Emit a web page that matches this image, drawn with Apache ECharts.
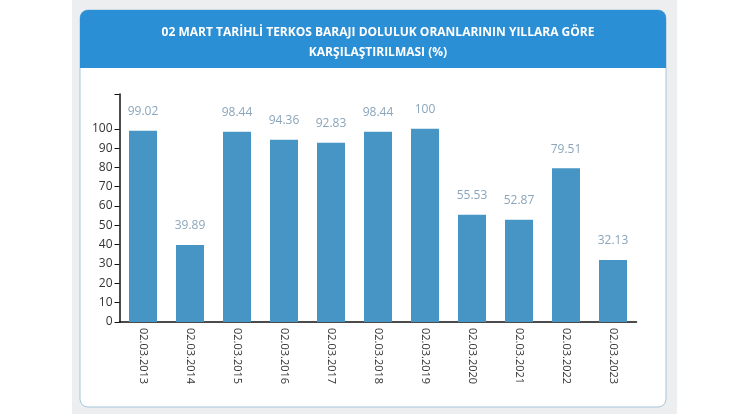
<!DOCTYPE html>
<html>
<head>
<meta charset="utf-8">
<script src="https://cdn.jsdelivr.net/npm/echarts@6/dist/echarts.min.js"></script>
<style>
  html, body { margin: 0; padding: 0; background: #fff; }
  #chart { width: 750px; height: 414px; }
</style>
</head>
<body>
<div id="chart"></div>
<script>
const dates = ['02.03.2013', '02.03.2014', '02.03.2015', '02.03.2016', '02.03.2017', '02.03.2018',
  '02.03.2019', '02.03.2020', '02.03.2021', '02.03.2022', '02.03.2023']
const levels = [99.02, 39.89, 98.44, 94.36, 92.83, 98.44, 100, 55.53, 52.87, 79.51, 32.13]
const yLabels = [0, 10, 20, 30, 40, 50, 60, 70, 80, 90, 100]
const yMax = 118
const titleText = '02 MART TARİHLİ TERKOS BARAJI DOLULUK ORANLARININ YILLARA GÖRE\nKARŞILAŞTIRILMASI (%)'

const chart = echarts.init(document.querySelector('#chart'))

const option = {
  animation: false,
  textStyle: { fontFamily: 'Open Sans' },
  graphic: [
    // card shadow, card and header band
    { type: 'rect', z: -10, shape: { x: 72, y: 0, width: 605, height: 414 }, style: { fill: '#eceef0' } },
    { type: 'rect', z: -9, shape: { x: 80, y: 10, width: 586, height: 397, r: 8 }, style: { fill: '#fff', stroke: '#a7c6d8', lineWidth: 1 } },
    { type: 'rect', z: -8, shape: { x: 80, y: 10, width: 586, height: 58, r: [8, 8, 0, 0] }, style: { fill: '#2b8fd5' } }
  ],
  title: {
    text: titleText,
    left: 373,
    top: 18,
    textAlign: 'center',
    textStyle: {
      color: '#fff',
      fontSize: 12,
      fontWeight: 'bold',
      fontFamily: 'Open Sans',
      lineHeight: 20
    }
  },
  grid: {
    left: 119.5,
    right: 113.5,
    top: 94,
    bottom: 92
  },
  xAxis: {
    type: 'category',
    data: dates,
    axisLine: { lineStyle: { color: '#111', width: 1.5 } },
    axisTick: { alignWithLabel: true, length: 5, lineStyle: { color: '#111' } },
    axisLabel: {
      rotate: -90,
      color: '#333',
      fontSize: 11,
      margin: 6
    }
  },
  yAxis: {
    type: 'value',
    min: 0,
    max: yMax,
    interval: 10,
    splitLine: { show: false },
    axisLine: { show: true, lineStyle: { color: '#111', width: 1.5 } },
    axisTick: { show: true, length: 5, customValues: yLabels.concat([yMax]), lineStyle: { color: '#111' } },
    axisLabel: { customValues: yLabels, color: '#333', fontSize: 12, margin: 7 }
  },
  series: [
    {
      type: 'bar',
      data: levels,
      barWidth: 28,
      itemStyle: { color: '#4795c5' },
      label: {
        show: true,
        position: 'top',
        distance: 13,
        color: '#8aa5bb',
        fontSize: 12
      }
    }
  ]
}

chart.setOption(option)
</script>
</body>
</html>
